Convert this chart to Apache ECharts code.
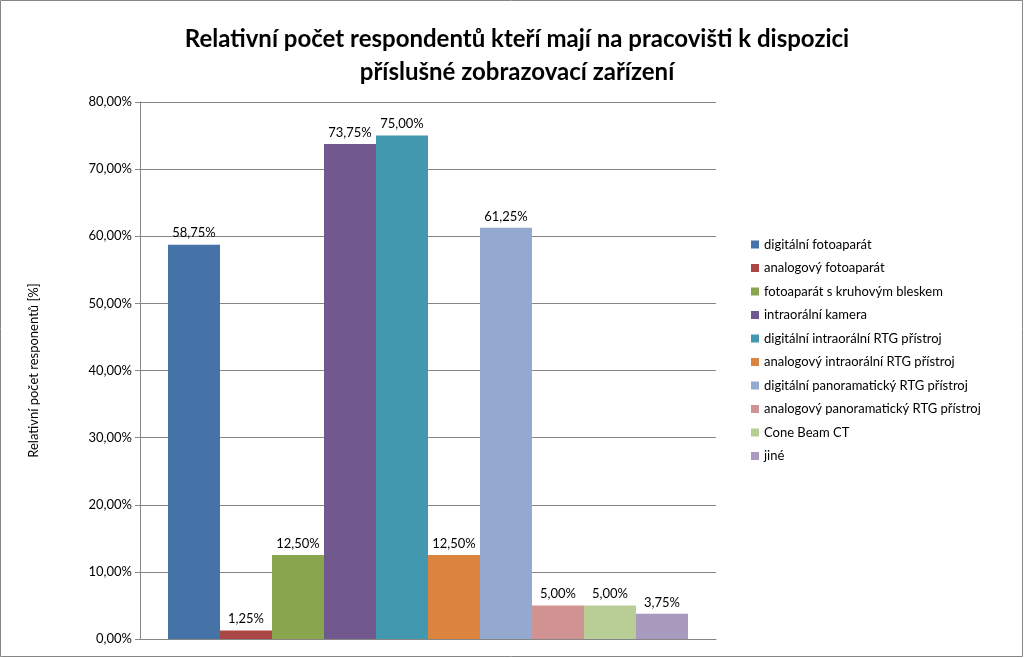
<!DOCTYPE html>
<html><head><meta charset="utf-8">
<script src="https://cdn.jsdelivr.net/npm/echarts@6/dist/echarts.min.js"></script>
<style>html,body{margin:0;padding:0;background:#fff}#c{width:1024px;height:658px}</style>
</head><body><div id="c"></div>
<script>
var names = ['digitální fotoaparát', 'analogový fotoaparát', 'fotoaparát s kruhovým bleskem', 'intraorální kamera',
  'digitální intraorální RTG přístroj', 'analogový intraorální RTG přístroj', 'digitální panoramatický RTG přístroj',
  'analogový panoramatický RTG přístroj', 'Cone Beam CT', 'jiné'];
var values = [58.75, 1.25, 12.5, 73.75, 75, 12.5, 61.25, 5, 5, 3.75];
var colors = ['#4572A7', '#AA4643', '#89A54E', '#71588F', '#4198AF', '#DB843D', '#93A9CF', '#D19392', '#B9CD96', '#A99BBD'];
var font = 'Lato';

function pct(v) { return v.toFixed(2).replace('.', ',') + '%'; }

var series = names.map(function (n, i) {
  return {
    name: n, type: 'bar', data: [values[i]], barWidth: 52, barGap: '0%',
    itemStyle: {color: colors[i]},
    label: {show: true, position: 'top', formatter: function (p) { return pct(p.value); },
      fontFamily: font, fontSize: 13, color: '#000'}
  };
});

var chart = echarts.init(document.getElementById('c'));
chart.setOption({
  animation: false,
  title: {
    text: 'Relativní počet respondentů kteří mají na pracovišti k dispozici\npříslušné zobrazovací zařízení',
    left: 512, top: 18, textAlign: 'center',
    textStyle: {fontFamily: font, fontSize: 24, fontWeight: 'bold', color: '#000', lineHeight: 33}
  },
  legend: {
    orient: 'vertical', left: 746, top: 233, itemGap: 10.5, itemWidth: 8, itemHeight: 8, icon: 'rect',
    textStyle: {fontFamily: font, fontSize: 13, color: '#000'}
  },
  grid: {left: 140, right: 308, top: 102, bottom: 19},
  xAxis: {type: 'category', data: [''], axisTick: {show: false}, axisLabel: {show: false},
    axisLine: {lineStyle: {color: '#868686'}}},
  yAxis: {
    type: 'value', min: 0, max: 80, interval: 10,
    name: 'Relativní počet responentů [%]', nameLocation: 'middle', nameGap: 100, nameRotate: 90,
    nameTextStyle: {fontFamily: font, fontSize: 13, color: '#000'},
    axisLine: {show: true, lineStyle: {color: '#868686'}},
    axisTick: {show: true, length: 5, lineStyle: {color: '#868686'}},
    axisLabel: {formatter: function (v) { return pct(v); }, fontFamily: font, fontSize: 13, color: '#000'},
    splitLine: {lineStyle: {color: '#868686'}}
  },
  graphic: [{type: 'rect', shape: {x: 0.5, y: 0.5, width: 1022, height: 656},
    style: {fill: 'none', stroke: '#868686', lineWidth: 1}}],
  series: series
});
</script></body></html>
